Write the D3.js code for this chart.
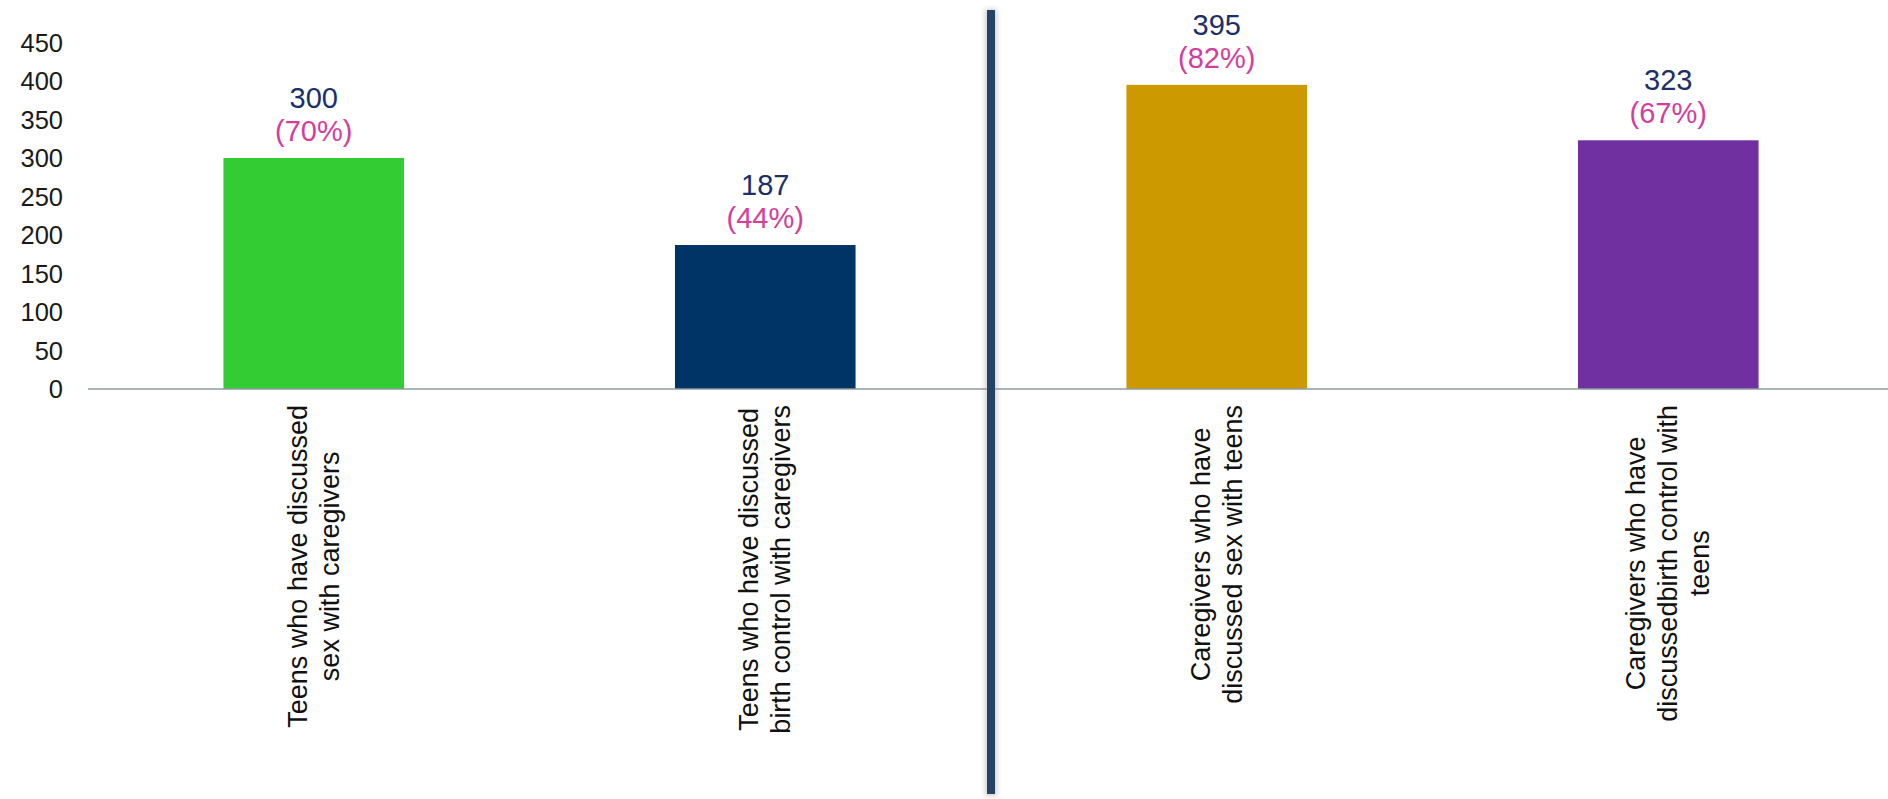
<!DOCTYPE html>
<html>
<head>
<meta charset="utf-8">
<script src="https://cdn.jsdelivr.net/npm/d3@7"></script>
<style>
  html, body { margin: 0; padding: 0; background: #ffffff; }
  svg { display: block; }
  text { font-family: "Liberation Sans", Arial, Helvetica, sans-serif; }
</style>
</head>
<body>
<svg id="chart" width="1888" height="799"></svg>
<script>
// Category labels, one array of lines per bar
const categories = [
  ["Teens who have discussed", "sex with caregivers"],
  ["Teens who have discussed", "birth control with caregivers"],
  ["Caregivers who have", "discussed sex with teens"],
  ["Caregivers who have", "discussedbirth control with", "teens"]
];
const categoryKeys = ["teenSex", "teenBirthControl", "caregiverSex", "caregiverBirthControl"];
const counts = [300, 187, 395, 323];
const percents = ["(70%)", "(44%)", "(82%)", "(67%)"];
const barColors = ["#33CC33", "#003366", "#CC9900", "#7030A0"];
const yTicks = [0, 50, 100, 150, 200, 250, 300, 350, 400, 450];

const W = 1888, H = 799;
const svg = d3.select("#chart");

const x = d3.scaleBand()
  .domain(categoryKeys)
  .range([88, 1894])
  .paddingInner(0.6)
  .paddingOuter(0.3);

const y = d3.scaleLinear()
  .domain([0, 450])
  .range([389, 42.5]);

// Y axis: tick labels only
const yAxis = d3.axisLeft(y)
  .tickValues(yTicks)
  .tickSize(0)
  .tickPadding(0);
const yG = svg.append("g")
  .attr("transform", "translate(63,0)")
  .call(yAxis);
yG.select(".domain").remove();
yG.selectAll("text")
  .attr("font-size", 25.5)
  .attr("fill", "#1a1a1a")
  .attr("dy", "0.35em")
  .style("font-family", "'Liberation Sans', Arial, sans-serif");

// Bars
svg.append("g").selectAll("rect")
  .data(categoryKeys)
  .join("rect")
  .attr("x", d => x(d))
  .attr("y", (d, i) => y(counts[i]))
  .attr("width", x.bandwidth())
  .attr("height", (d, i) => y(0) - y(counts[i]))
  .attr("fill", (d, i) => barColors[i]);

// Baseline
svg.append("line")
  .attr("x1", 88).attr("x2", W)
  .attr("y1", y(0)).attr("y2", y(0))
  .attr("stroke", "#8C9C9E")
  .attr("stroke-width", 1.5);

// Value labels: count above, percentage below
const labels = svg.append("g");
categoryKeys.forEach((k, i) => {
  const cx = x(k) + x.bandwidth() / 2;
  const top = y(counts[i]);
  labels.append("text")
    .attr("x", cx).attr("y", top - 50)
    .attr("text-anchor", "middle")
    .attr("font-size", 29)
    .attr("fill", "#1B2F6A")
    .text(counts[i]);
  labels.append("text")
    .attr("x", cx).attr("y", top - 17)
    .attr("text-anchor", "middle")
    .attr("font-size", 29)
    .attr("fill", "#D43D9E")
    .text(percents[i]);
});

// Rotated category labels below the baseline
const lineGap = 32;
categoryKeys.forEach((k, i) => {
  const cx = x(k) + x.bandwidth() / 2;
  const lines = categories[i];
  const g = svg.append("g")
    .attr("transform", `translate(${cx},405) rotate(-90)`);
  const texts = lines.map((ln, j) => g.append("text")
    .attr("font-size", 27)
    .attr("fill", "#111")
    .attr("text-anchor", "middle")
    .attr("y", (j - (lines.length - 1) / 2) * lineGap + 9)
    .text(ln));
  const maxLen = d3.max(texts, t => t.node().getComputedTextLength());
  texts.forEach(t => t.attr("x", -maxLen / 2));
});

// Vertical divider between the teen and caregiver groups
const divX = x(categoryKeys[2]) - x.step() * x.paddingInner() / 2;
const defs = svg.append("defs");
defs.append("filter").attr("id", "soft")
  .attr("x", "-200%").attr("width", "500%")
  .append("feGaussianBlur").attr("stdDeviation", 2.5);
svg.append("rect")
  .attr("x", divX - 6).attr("y", 9)
  .attr("width", 12).attr("height", 787)
  .attr("fill", "#9a9a9a")
  .attr("opacity", 0.45)
  .attr("filter", "url(#soft)");
svg.append("rect")
  .attr("x", divX - 4).attr("y", 10)
  .attr("width", 8).attr("height", 784)
  .attr("fill", "#264264");
</script>
</body>
</html>
